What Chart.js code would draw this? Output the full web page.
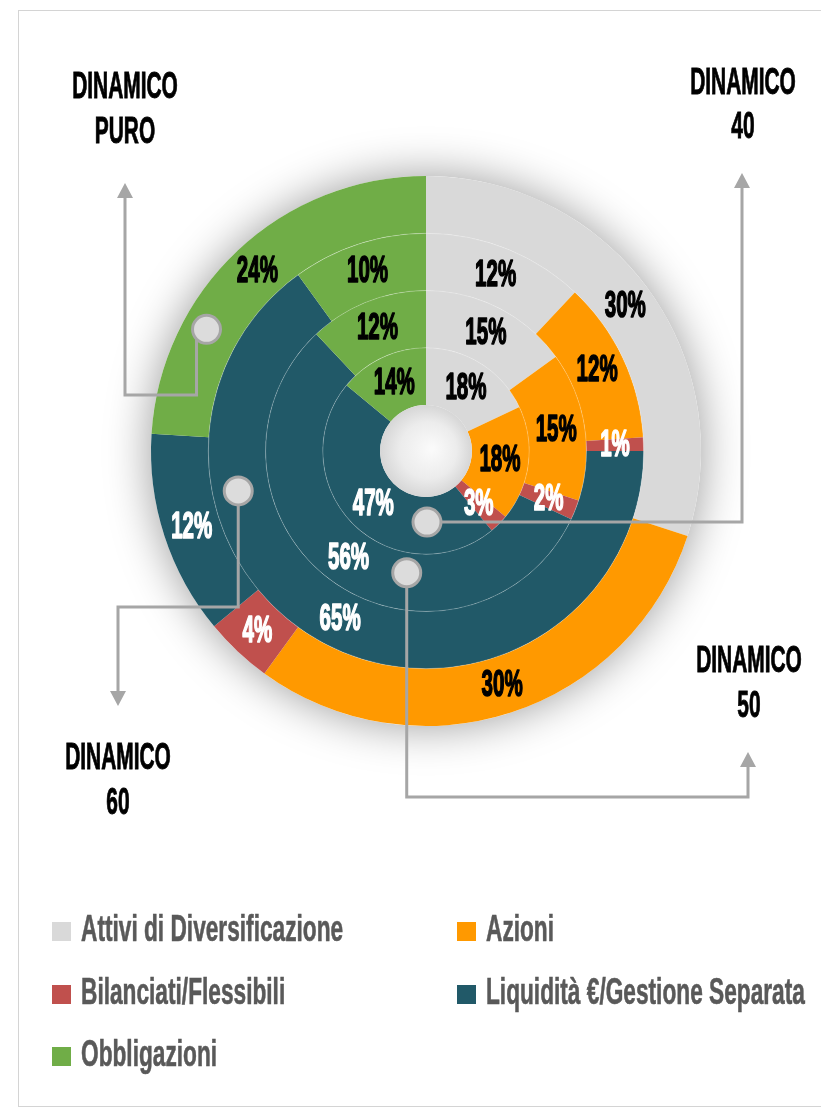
<!DOCTYPE html>
<html>
<head>
<meta charset="utf-8">
<script src="https://cdn.jsdelivr.net/npm/chart.js@4.4.1/dist/chart.umd.min.js"></script>
<style>
html,body{margin:0;padding:0;background:#fff;}
#wrap{position:relative;width:821px;height:1108px;overflow:hidden;background:#fff;}
#c{position:absolute;left:0;top:0;}
#frame{position:absolute;left:18px;top:10px;width:805px;height:1097px;border:1px solid #d4d4d4;box-sizing:border-box;}
.t{position:absolute;font-family:"Liberation Sans",Arial,sans-serif;font-weight:bold;color:#000;white-space:nowrap;font-size:37px;line-height:40px;height:40px;-webkit-text-stroke:0.9px #000;}
.lg-m{position:absolute;width:19px;height:19px;}
.lg-t{position:absolute;font-family:"Liberation Sans",Arial,sans-serif;font-weight:bold;color:#595959;white-space:nowrap;font-size:36px;line-height:40px;height:40px;transform-origin:0 50%;transform:scaleX(0.63);-webkit-text-stroke:0.6px #595959;}
</style>
</head>
<body>
<div id="wrap">
  <div id="frame"></div>
  <canvas id="c" width="821" height="1108"></canvas>
</div>
<script>
// ---- data ----
const categories = ['Attivi di Diversificazione','Azioni','Bilanciati/Flessibili','Liquidità €/Gestione Separata','Obbligazioni'];
const seriesNames = ['DINAMICO PURO','DINAMICO 60','DINAMICO 50','DINAMICO 40'];
const dinamicoPuro = [30, 30, 4, 12, 24];
const dinamico60   = [12, 12, 1, 65, 10];
const dinamico50   = [15, 15, 2, 56, 12];
const dinamico40   = [18, 18, 3, 47, 14];

// ---- styles ----
const colors = ['#d9d9d9','#ff9900','#c0504d','#215968','#70ad47'];
const labelColors = ['#000','#000','#fff','#fff','#000'];

// titles (two lines each) and their centres
const titles = [
  {lines:['DINAMICO','PURO'], x:125, y:[86,131]},
  {lines:['DINAMICO','40'],   x:743, y:[82,126]},
  {lines:['DINAMICO','50'],   x:749, y:[660,705]},
  {lines:['DINAMICO','60'],   x:118, y:[757,802]}
];
const wrap = document.getElementById('wrap');
titles.forEach(t=>{
  t.lines.forEach((txt,i)=>{
    const d=document.createElement('div');
    d.className='t';
    d.textContent=txt;
    d.style.left=t.x+'px';
    d.style.top=t.y[i]+'px';
    d.style.transform='translate(-50%,-50%) scaleX(0.565)';
    wrap.appendChild(d);
  });
});

// legend
const legendPos = [[52,931],[457,931],[52,994],[457,994],[52,1056]];
categories.forEach((c,i)=>{
  const m=document.createElement('div');
  m.className='lg-m';
  m.style.background=colors[i];
  m.style.left=legendPos[i][0]+'px';
  m.style.top=(legendPos[i][1]-9.5)+'px';
  wrap.appendChild(m);
  const t=document.createElement('div');
  t.className='lg-t';
  t.textContent=c;
  t.style.left=(legendPos[i][0]+29)+'px';
  t.style.top=(legendPos[i][1]-22)+'px';
  wrap.appendChild(t);
});

// connectors: dataset index, angle (deg, clockwise from top), fractional position in the ring, path
const connectors = [
  {ds:0, angle:299,   f:0.58, dx:-10, path:[['v',395],['h',125],['v',198]], tip:183},
  {ds:1, angle:258,   f:0.55, dx:0,   path:[['v',607],['h',118],['v',691]], tip:706},
  {ds:2, angle:189,   f:0.35, dx:0,   path:[['v',797],['h',748],['v',767]], tip:752},
  {ds:3, angle:179.2, f:0.44, dx:0,   path:[['h',742],['v',188]], tip:173}
];

const decoPlugin = {
  id:'deco',
  beforeDatasetsDraw(chart){
    const ctx=chart.ctx;
    const a=chart.getDatasetMeta(0).data[0];
    ctx.save();
    ctx.shadowColor='rgba(0,0,0,0.4)';
    ctx.shadowBlur=46;
    ctx.fillStyle='#ffffff';
    ctx.beginPath();
    ctx.arc(a.x,a.y,a.outerRadius,0,Math.PI*2);
    ctx.fill();
    ctx.restore();
  },
  afterDatasetsDraw(chart){
    const ctx=chart.ctx;
    const n=chart.data.datasets.length;
    const a0=chart.getDatasetMeta(0).data[0];
    const cx=a0.x, cy=a0.y;
    // faint ring separators
    ctx.save();
    ctx.strokeStyle='rgba(255,255,255,0.3)';
    ctx.lineWidth=0.8;
    for(let d=0; d<n-1; d++){
      const el=chart.getDatasetMeta(d).data[0];
      ctx.beginPath();
      ctx.arc(cx,cy,el.innerRadius,0,Math.PI*2);
      ctx.stroke();
    }
    ctx.restore();
    // centre sphere
    const inner=chart.getDatasetMeta(n-1).data[0].innerRadius;
    ctx.save();
    const g=ctx.createRadialGradient(cx+6,cy-2,2,cx,cy,inner);
    g.addColorStop(0,'#fafafa');
    g.addColorStop(0.6,'#ececec');
    g.addColorStop(1,'#d6d6d6');
    ctx.fillStyle=g;
    ctx.beginPath();
    ctx.arc(cx,cy,inner,0,Math.PI*2);
    ctx.fill();
    ctx.restore();
    // value labels
    chart.data.datasets.forEach((ds,di)=>{
      const meta=chart.getDatasetMeta(di);
      meta.data.forEach((el,i)=>{
        const p=el.getProps(['x','y','startAngle','endAngle','innerRadius','outerRadius'],true);
        const ang=(p.startAngle+p.endAngle)/2;
        const r=(p.innerRadius+p.outerRadius)/2;
        const x=p.x+Math.cos(ang)*r, y=p.y+Math.sin(ang)*r;
        ctx.save();
        ctx.translate(x,y+1);
        ctx.scale(0.57,1);
        ctx.font='bold 36px "Liberation Sans", Arial, sans-serif';
        ctx.textAlign='center';
        ctx.textBaseline='middle';
        ctx.fillStyle=labelColors[i];
        ctx.strokeStyle=labelColors[i];
        ctx.lineWidth=1.6;
        ctx.lineJoin='round';
        const txt=ds.data[i]+'%';
        ctx.strokeText(txt,0,0);
        ctx.fillText(txt,0,0);
        ctx.restore();
      });
    });
    // connectors
    ctx.save();
    ctx.strokeStyle='#a6a6a6';
    ctx.fillStyle='#a6a6a6';
    ctx.lineWidth=3;
    ctx.lineCap='butt';
    ctx.lineJoin='miter';
    connectors.forEach(c=>{
      const el=chart.getDatasetMeta(c.ds).data[0];
      const r=el.innerRadius+(el.outerRadius-el.innerRadius)*c.f;
      const th=c.angle*Math.PI/180;
      const px=cx+Math.sin(th)*r, py=cy-Math.cos(th)*r;
      let x=px+c.dx, y=py;
      ctx.beginPath();
      ctx.moveTo(x,y);
      c.path.forEach(s=>{
        if(s[0]==='v') y=s[1]; else x=s[1];
        ctx.lineTo(x,y);
      });
      ctx.stroke();
      // arrow head
      ctx.beginPath();
      ctx.moveTo(x-8,y);
      ctx.lineTo(x+8,y);
      ctx.lineTo(x,c.tip);
      ctx.closePath();
      ctx.fill();
      c._p=[px,py];
    });
    connectors.forEach(c=>{
      ctx.beginPath();
      ctx.arc(c._p[0],c._p[1],14,0,Math.PI*2);
      ctx.fillStyle='#dcdcdc';
      ctx.fill();
      ctx.strokeStyle='#a6a6a6';
      ctx.lineWidth=3;
      ctx.stroke();
    });
    ctx.restore();
  }
};

const allSeries=[dinamicoPuro,dinamico60,dinamico50,dinamico40];
new Chart(document.getElementById('c'),{
  type:'doughnut',
  data:{
    labels:categories,
    datasets:allSeries.map((s,i)=>({
      label:seriesNames[i],
      data:s,
      backgroundColor:colors,
      borderWidth:0,
      hoverOffset:0
    }))
  },
  options:{
    responsive:false,
    maintainAspectRatio:false,
    devicePixelRatio:1,
    animation:false,
    events:[],
    cutout:'16.7%',
    layout:{padding:{left:151,top:176,right:120,bottom:382}},
    plugins:{legend:{display:false},tooltip:{enabled:false},title:{display:false}}
  },
  plugins:[decoPlugin]
});
</script>
</body>
</html>
